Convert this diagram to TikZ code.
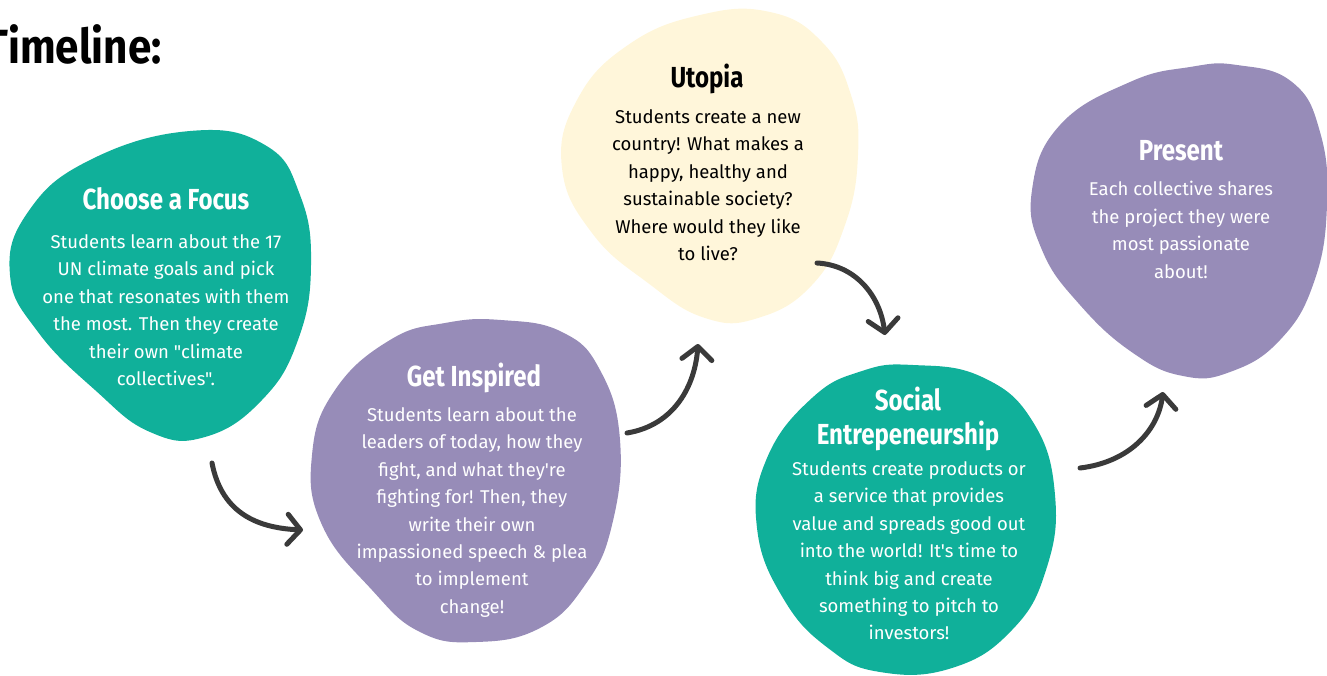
\documentclass[tikz,border=0pt]{standalone}
\usepackage{fontspec}
\setmainfont{Fira Sans}
\newfontfamily\bodyfont{Fira Sans}
\newfontfamily\headfont{Fira Sans}[FakeStretch=0.83]
\newfontfamily\bigfont{Fira Sans}[FakeStretch=0.88]
\usetikzlibrary{arrows.meta}
\definecolor{tealblob}{HTML}{10B09A}
\definecolor{purpleblob}{HTML}{978CB8}
\definecolor{yellowblob}{HTML}{FFF6DA}
\definecolor{arrowgray}{HTML}{3A3A3A}
\tikzset{x=1pt,y=-1pt}
\tikzset{blob/.style={smooth cycle,tension=0.75}}
\tikzset{title/.style={font=\headfont\bfseries\fontsize{29}{34}\selectfont,align=center}}
\tikzset{body/.style={font=\bodyfont\fontsize{18.5}{27.4}\selectfont,align=center,anchor=north}}
\tikzset{hop/.style={draw=arrowgray,line width=5pt,line cap=round,-{Straight Barb[length=13pt,width=30pt,round]}}}

\begin{document}
\begin{tikzpicture}
\useasboundingbox (0,0) rectangle (1327,675);
% blobs
\fill[tealblob] plot[blob] coordinates {(190,131) (265,145) (300,195) (311,265) (298,340) (262,400) (205,437) (150,432) (95,390) (38,332) (10,275) (28,212) (90,160)};
\fill[purpleblob] plot[blob] coordinates {(501,320) (562,332) (600,370) (620,440) (612,525) (585,585) (540,628) (476,642) (420,632) (372,590) (322,525) (312,455) (335,390) (390,340) (445,323)};
\fill[yellowblob] plot[blob] coordinates {(700,15) (770,12) (822,42) (851,95) (858,155) (845,225) (812,285) (758,318) (705,318) (648,283) (592,233) (562,168) (577,100) (628,45)};
\fill[tealblob] plot[blob] coordinates {(913,365) (982,377) (1033,422) (1055,495) (1046,570) (1012,630) (952,668) (880,672) (828,648) (783,598) (757,528) (767,458) (812,398) (862,371)};
\fill[purpleblob] plot[blob] coordinates {(1237,65) (1292,82) (1320,132) (1327,205) (1314,282) (1280,340) (1230,372) (1183,376) (1133,353) (1080,305) (1042,250) (1032,190) (1060,125) (1130,82) (1190,67)};
% texts
\node[anchor=base east,font=\bigfont\bfseries\fontsize{48}{52}\selectfont,name=tl] at (165,63) {Timeline:};
\node[title,text=white,name=t1] at (166,199) {Choose a Focus};
\node[body,text=white,name=b1] at (166,231) {Students learn about the 17\\UN climate goals and pick\\one that resonates with them\\the most. Then they create\\their own "climate\\collectives".};
\node[title,text=white,name=t2] at (474,378) {Get Inspired};
\node[body,text=white,name=b2] at (472,404) {Students learn about the\\leaders of today, how they\\fight, and what they're\\fighting for! Then, they\\write their own\\impassioned speech \& plea\\to implement\\change!};
\node[title,text=black,name=t3] at (707,79) {Utopia};
\node[body,text=black,name=b3] at (708,106) {Students create a new\\country! What makes a\\happy, healthy and\\sustainable society?\\Where would they like\\to live?};
\node[title,text=white,name=t4] at (908,419) {Social\\Entrepeneurship};
\node[body,text=white,name=b4] at (909,458) {Students create products or\\a service that provides\\value and spreads good out\\into the world! It's time to\\think big and create\\something to pitch to\\investors!};
\node[title,text=white,name=t5] at (1181,151) {Present};
\node[body,text=white,name=b5] at (1181,178) {Each collective shares\\the project they were\\most passionate\\about!};
% arrows
\coordinate (a1s) at (212,463);
\coordinate (a1e) at (303,530);
\coordinate (a2s) at (627,433);
\coordinate (a2e) at (698,344);
\coordinate (a3s) at (817,263);
\coordinate (a3e) at (885,335);
\coordinate (a4s) at (1080,468);
\coordinate (a4e) at (1163,392);
\draw[hop] (a1s) .. controls (222,515) and (260,528) .. (a1e);
\draw[hop] (a2s) .. controls (675,425) and (695,385) .. (a2e);
\draw[hop] (a3s) .. controls (855,265) and (880,295) .. (a3e);
\draw[hop] (a4s) .. controls (1130,462) and (1158,430) .. (a4e);
\end{tikzpicture}
\end{document}
